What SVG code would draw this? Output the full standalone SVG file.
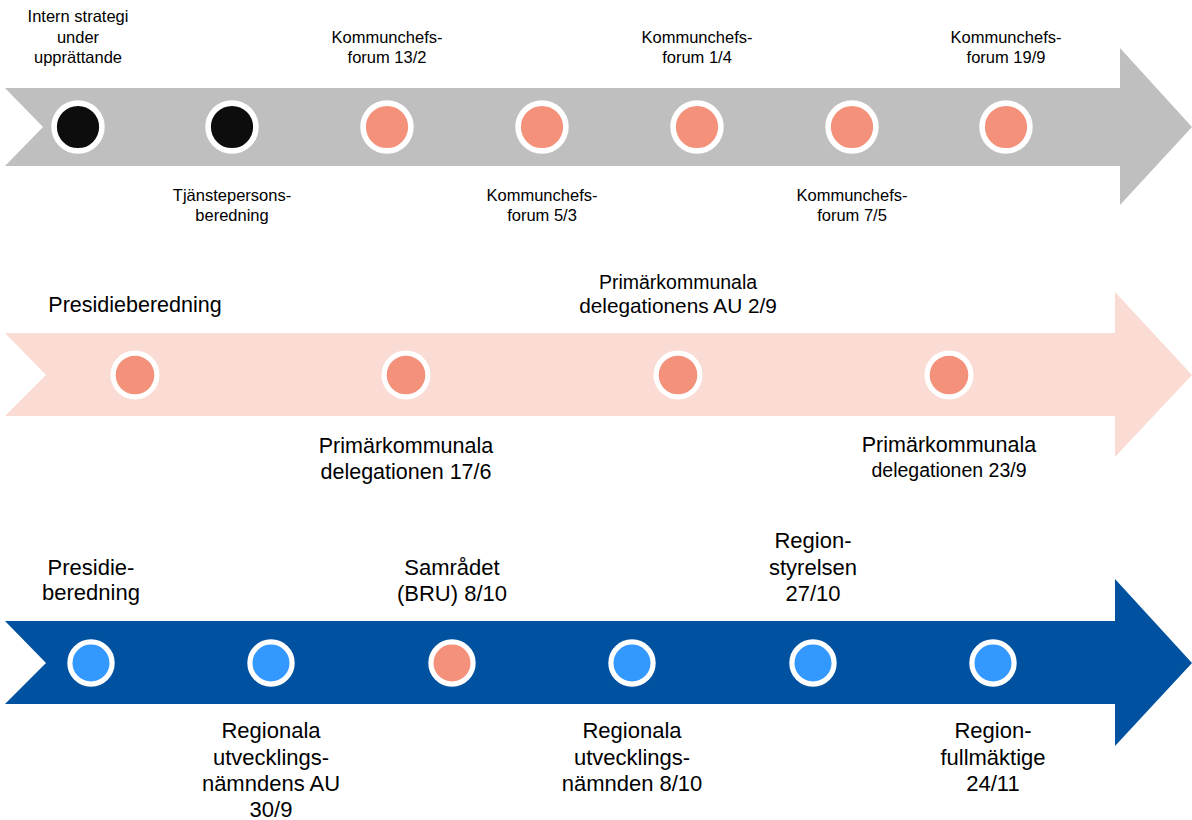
<svg xmlns="http://www.w3.org/2000/svg" width="1192" height="820" viewBox="0 0 1192 820">
<style>
text{font-family:"Liberation Sans",Arial,sans-serif;fill:#000;text-anchor:middle}
.t1{font-size:16.5px}
.t2{font-size:21.5px}
.t2s{font-size:19.5px}
.t2m{font-size:20.8px}
.t3{font-size:22px}
.ring1{stroke:#fff;stroke-width:5.6}
.ring{stroke:#fff;stroke-width:5.2}
.blk{fill:#0D0D0D}
.sal{fill:#F4917A}
.blu{fill:#3399FF}
</style>
<rect width="1192" height="820" fill="#fff"/>
<g id="timelines">
<polygon points="5,88 1120,88 1120,48 1192,127 1120,205 1120,166 5,166 43,127" fill="#BFBFBF"/>
<polygon points="5,333 1115,333 1115,292 1192,375 1115,457 1115,416 5,416 46,375" fill="#FBDCD5"/>
<polygon points="5,621 1115,621 1115,579 1192,663 1115,746 1115,704 5,704 46,663" fill="#0052A0"/>
</g>
<g id="row1">
<g id="n1-1"><circle cx="78" cy="127" r="23.9" class="blk ring1"/><text class="t1"><tspan x="78" y="22">Intern strategi</tspan><tspan x="78" y="43">under</tspan><tspan x="78" y="63">upprättande</tspan></text></g>
<g id="n1-2"><circle cx="232" cy="127" r="23.9" class="blk ring1"/><text class="t1"><tspan x="232" y="201">Tjänstepersons-</tspan><tspan x="232" y="221">beredning</tspan></text></g>
<g id="n1-3"><circle cx="387" cy="127" r="23.9" class="sal ring1"/><text class="t1"><tspan x="387" y="43">Kommunchefs-</tspan><tspan x="387" y="63">forum 13/2</tspan></text></g>
<g id="n1-4"><circle cx="542" cy="127" r="23.9" class="sal ring1"/><text class="t1"><tspan x="542" y="201">Kommunchefs-</tspan><tspan x="542" y="221">forum 5/3</tspan></text></g>
<g id="n1-5"><circle cx="697" cy="127" r="23.9" class="sal ring1"/><text class="t1"><tspan x="697" y="43">Kommunchefs-</tspan><tspan x="697" y="63">forum 1/4</tspan></text></g>
<g id="n1-6"><circle cx="852" cy="127" r="23.9" class="sal ring1"/><text class="t1"><tspan x="852" y="201">Kommunchefs-</tspan><tspan x="852" y="221">forum 7/5</tspan></text></g>
<g id="n1-7"><circle cx="1006" cy="127" r="23.9" class="sal ring1"/><text class="t1"><tspan x="1006" y="43">Kommunchefs-</tspan><tspan x="1006" y="63">forum 19/9</tspan></text></g>
</g>
<g id="row2">
<g id="n2-1"><circle cx="135" cy="375" r="21.9" class="sal ring"/><text class="t2" x="135" y="312">Presidieberedning</text></g>
<g id="n2-2"><circle cx="406" cy="375" r="21.9" class="sal ring"/><text class="t2"><tspan x="406" y="453">Primärkommunala</tspan><tspan x="406" y="479">delegationen 17/6</tspan></text></g>
<g id="n2-3"><circle cx="678" cy="375" r="21.9" class="sal ring"/><text><tspan class="t2s" x="678" y="289">Primärkommunala</tspan><tspan class="t2m" x="678" y="313">delegationens AU 2/9</tspan></text></g>
<g id="n2-4"><circle cx="949" cy="375" r="21.9" class="sal ring"/><text><tspan class="t2" x="949" y="452">Primärkommunala</tspan><tspan class="t2s" x="949" y="477">delegationen 23/9</tspan></text></g>
</g>
<g id="row3">
<g id="n3-1"><circle cx="91" cy="663" r="21.1" class="blu ring"/><text class="t3"><tspan x="91" y="575">Presidie-</tspan><tspan x="91" y="600">beredning</tspan></text></g>
<g id="n3-2"><circle cx="271" cy="663" r="21.1" class="blu ring"/><text class="t3"><tspan x="271" y="738">Regionala</tspan><tspan x="271" y="765">utvecklings-</tspan><tspan x="271" y="791">nämndens AU</tspan><tspan x="271" y="817">30/9</tspan></text></g>
<g id="n3-3"><circle cx="452" cy="663" r="21.1" class="sal ring"/><text class="t3"><tspan x="452" y="575">Samrådet</tspan><tspan x="452" y="601">(BRU) 8/10</tspan></text></g>
<g id="n3-4"><circle cx="632" cy="663" r="21.1" class="blu ring"/><text class="t3"><tspan x="632" y="738">Regionala</tspan><tspan x="632" y="765">utvecklings-</tspan><tspan x="632" y="791">nämnden 8/10</tspan></text></g>
<g id="n3-5"><circle cx="813" cy="663" r="21.1" class="blu ring"/><text class="t3"><tspan x="813" y="548">Region-</tspan><tspan x="813" y="575">styrelsen</tspan><tspan x="813" y="601">27/10</tspan></text></g>
<g id="n3-6"><circle cx="993" cy="663" r="21.1" class="blu ring"/><text class="t3"><tspan x="993" y="738">Region-</tspan><tspan x="993" y="765">fullmäktige</tspan><tspan x="993" y="791">24/11</tspan></text></g>
</g>
</svg>
